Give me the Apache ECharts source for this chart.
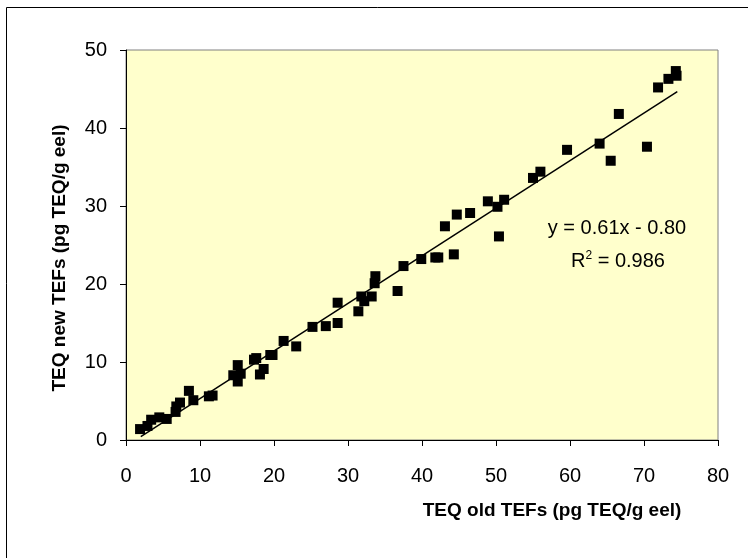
<!DOCTYPE html>
<html>
<head>
<meta charset="utf-8">
<script src="https://cdn.jsdelivr.net/npm/echarts@6/dist/echarts.min.js"></script>
<style>
  html, body { margin: 0; padding: 0; background: #fff; }
  #chart { width: 748px; height: 558px; }
</style>
</head>
<body>
<div id="chart"></div>
<script>
// TEQ with old TEFs (x) vs new TEFs (y), pg TEQ/g eel
const oldTEF = [
  1.9, 2.9, 3.4, 4.5, 5.5, 6.7, 6.8, 7.3, 8.5, 9.1,
  11.2, 11.7, 14.5, 15.1, 15.1, 15.5, 17.3, 17.6, 18.1, 18.6,
  19.5, 19.8, 21.3, 23.0, 25.2, 27.0, 28.6, 28.6, 31.4, 31.8,
  32.2, 33.2, 33.6, 33.7, 36.7, 37.5, 39.9, 41.8, 42.2, 44.3,
  43.1, 44.7, 46.5, 48.9, 50.2, 51.1, 50.4, 55.0, 56.0, 59.6,
  64.0, 65.5, 66.6, 70.4, 71.9, 73.3, 74.3, 74.4
];
const newTEF = [
  1.4, 1.8, 2.6, 2.9, 2.7, 3.6, 4.3, 4.8, 6.3, 5.1,
  5.6, 5.7, 8.3, 9.6, 7.5, 8.5, 10.3, 10.5, 8.4, 9.1,
  10.9, 10.9, 12.7, 12.0, 14.5, 14.6, 15.0, 17.6, 16.5, 18.4,
  17.8, 18.4, 20.1, 21.0, 19.1, 22.3, 23.2, 23.4, 23.4, 23.8,
  27.4, 28.9, 29.1, 30.6, 29.9, 30.8, 26.1, 33.6, 34.4, 37.2,
  38.0, 35.8, 41.8, 37.6, 45.2, 46.3, 47.3, 46.7
];

// trendline end points (y = 0.61x - 0.80)
const trendX = [2.0, 74.5];
const trendY = [0.42, 44.65];

const xTicks = [0, 10, 20, 30, 40, 50, 60, 70, 80];
const yTicks = [0, 10, 20, 30, 40, 50];

const font = '"Liberation Sans", Arial, sans-serif';

const chart = echarts.init(document.getElementById('chart'));

const option = {
  animation: false,
  backgroundColor: '#ffffff',
  grid: {
    left: 126, top: 50, width: 592, height: 390,
    show: true,
    backgroundColor: '#FFFFCC',
    borderColor: '#808080',
    borderWidth: 1
  },
  xAxis: {
    type: 'value',
    min: xTicks[0], max: xTicks[xTicks.length - 1], interval: 10,
    axisLine: { show: true, lineStyle: { color: '#000', width: 1 } },
    axisTick: { show: true, inside: false, length: 6, lineStyle: { color: '#000' } },
    axisLabel: { color: '#000', fontSize: 20, fontFamily: font, margin: 26 },
    splitLine: { show: false }
  },
  yAxis: {
    type: 'value',
    min: yTicks[0], max: yTicks[yTicks.length - 1], interval: 10,
    axisLine: { show: true, lineStyle: { color: '#000', width: 1 } },
    axisTick: { show: true, inside: false, length: 6, lineStyle: { color: '#000' } },
    axisLabel: { color: '#000', fontSize: 20, fontFamily: font, margin: 19 },
    splitLine: { show: false }
  },
  series: [
    {
      type: 'scatter',
      symbol: 'rect',
      symbolSize: 10,
      itemStyle: { color: '#000', opacity: 1 },
      data: oldTEF.map((x, i) => [x, newTEF[i]]),
      z: 3
    },
    {
      type: 'line',
      showSymbol: false,
      symbol: 'none',
      lineStyle: { color: '#000', width: 1.5 },
      data: trendX.map((x, i) => [x, trendY[i]]),
      z: 2
    }
  ],
  graphic: [
    {
      type: 'rect',
      shape: { x: 6.5, y: 7.5, width: 800, height: 600 },
      style: { fill: 'none', stroke: '#000', lineWidth: 1 },
      silent: true
    },
    {
      type: 'text',
      x: 552, y: 511,
      style: {
        text: 'TEQ old TEFs (pg TEQ/g eel)',
        font: 'bold 19px ' + font,
        fill: '#000',
        textAlign: 'center', textVerticalAlign: 'middle'
      }
    },
    {
      type: 'text',
      x: 60, y: 258,
      rotation: Math.PI / 2,
      style: {
        text: 'TEQ new TEFs (pg TEQ/g eel)',
        font: 'bold 19px ' + font,
        fill: '#000',
        textAlign: 'center', textVerticalAlign: 'middle'
      }
    },
    {
      type: 'text',
      x: 617, y: 228,
      style: {
        text: 'y = 0.61x - 0.80',
        font: '20px ' + font,
        fill: '#000',
        textAlign: 'center', textVerticalAlign: 'middle'
      }
    },
    {
      type: 'text',
      x: 618, y: 261,
      style: {
        text: '{a|R}{s|2}{a| = 0.986}',
        textAlign: 'center', textVerticalAlign: 'middle',
        rich: {
          a: { fontSize: 20, fontFamily: font, fill: '#000', color: '#000' },
          s: { fontSize: 12, fontFamily: font, color: '#000', verticalAlign: 'top', padding: [0, 0, 10, 0] }
        }
      }
    }
  ]
};

chart.setOption(option);
</script>
</body>
</html>
